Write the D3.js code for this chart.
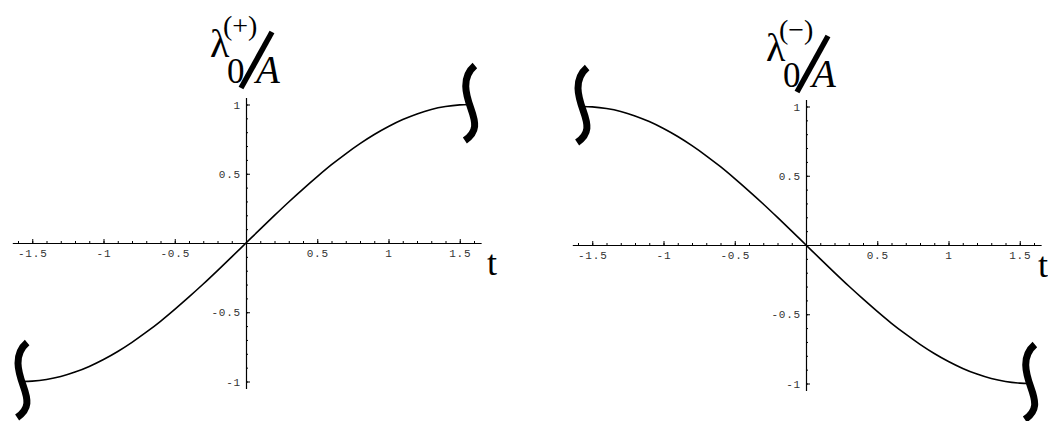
<!DOCTYPE html>
<html>
<head>
<meta charset="utf-8">
<script src="https://cdn.jsdelivr.net/npm/d3@7"></script>
<style>
  html, body { margin: 0; padding: 0; background: #fff; }
  svg { display: block; }
  .tick text { font-family: "Liberation Mono", "DejaVu Sans Mono", monospace; font-size: 11px; fill: #333; letter-spacing: 0.8px; }
  .title { font-family: "Liberation Serif", "Times New Roman", serif; fill: #000; }
</style>
</head>
<body>
<svg id="chart" width="1048" height="421"></svg>
<script>
// Sample points of lambda_0/A against t for each branch
const tValues = [-1.571, -1.5, -1.4, -1.3, -1.2, -1.1, -1.0, -0.9, -0.8, -0.7, -0.6, -0.5, -0.4, -0.3, -0.2, -0.1,
                 0, 0.1, 0.2, 0.3, 0.4, 0.5, 0.6, 0.7, 0.8, 0.9, 1.0, 1.1, 1.2, 1.3, 1.4, 1.5, 1.571];
const lambdaPlus = [-1.000, -0.997, -0.985, -0.964, -0.932, -0.891, -0.841, -0.783, -0.717, -0.644, -0.565, -0.479, -0.389, -0.296, -0.199, -0.100,
                    0, 0.100, 0.199, 0.296, 0.389, 0.479, 0.565, 0.644, 0.717, 0.783, 0.841, 0.891, 0.932, 0.964, 0.985, 0.997, 1.000];
const lambdaMinus = [1.000, 0.997, 0.985, 0.964, 0.932, 0.891, 0.841, 0.783, 0.717, 0.644, 0.565, 0.479, 0.389, 0.296, 0.199, 0.100,
                     0, -0.100, -0.199, -0.296, -0.389, -0.479, -0.565, -0.644, -0.717, -0.783, -0.841, -0.891, -0.932, -0.964, -0.985, -0.997, -1.000];

// Axis ranges and tick values
const xDomain = [-1.64, 1.65];
const yDomain = [-1.05, 1.05];
const xMajorTicks = [-1.5, -1, -0.5, 0.5, 1, 1.5];
const yMajorTicks = [-1, -0.5, 0.5, 1];
const xMinorTicks = d3.range(-16, 17).map(d => d / 10);
const yMinorTicks = d3.range(-10, 11).map(d => d / 10);
const signs = ["+", "\u2212"];

const svg = d3.select("#chart");

// Pixel layout of each panel: origin of the axes and scale per unit
const panels = [
  { ox: 246, oy: 243, values: lambdaPlus,  sign: signs[0], titleX: 210, titleY: 57, tX: 487 },
  { ox: 806, oy: 245, values: lambdaMinus, sign: signs[1], titleX: 766, titleY: 61, tX: 1038 }
];
const pxX = 142.5, pxY = 138.5;

const fmt = d => String(d);

panels.forEach(p => {
  const x = d3.scaleLinear().domain(xDomain).range([p.ox + xDomain[0] * pxX, p.ox + xDomain[1] * pxX]);
  const y = d3.scaleLinear().domain(yDomain).range([p.oy - yDomain[0] * pxY, p.oy - yDomain[1] * pxY]);
  const g = svg.append("g");

  // minor ticks
  g.append("g").attr("transform", `translate(0,${y(0)})`)
    .call(d3.axisBottom(x).tickValues(xMinorTicks).tickSizeInner(-2).tickSizeOuter(0).tickFormat(""))
    .call(a => a.select(".domain").remove());
  g.append("g").attr("transform", `translate(${x(0)},0)`)
    .call(d3.axisLeft(y).tickValues(yMinorTicks).tickSizeInner(-2).tickSizeOuter(0).tickFormat(""))
    .call(a => a.select(".domain").remove());

  // major ticks with labels
  const xa = g.append("g").attr("transform", `translate(0,${y(0)})`)
    .call(d3.axisBottom(x).tickValues(xMajorTicks).tickSizeInner(-4).tickSizeOuter(0).tickPadding(6).tickFormat(fmt));
  const ya = g.append("g").attr("transform", `translate(${x(0)},0)`)
    .call(d3.axisLeft(y).tickValues(yMajorTicks).tickSizeInner(-4).tickSizeOuter(0).tickPadding(5).tickFormat(fmt));
  [xa, ya].forEach(a => a.select(".domain").attr("stroke", "#000").attr("stroke-width", 1.2));
  g.selectAll(".tick line").attr("stroke", "#000");

  // curve
  const pts = tValues.map((t, i) => [t, p.values[i]]);
  g.append("path")
    .datum(pts)
    .attr("fill", "none")
    .attr("stroke", "#000")
    .attr("stroke-width", 1.6)
    .attr("d", d3.line().x(d => x(d[0])).y(d => y(d[1])).curve(d3.curveMonotoneX));

  // break marks at both ends of the curve
  const ends = [pts[0], pts[pts.length - 1]];
  ends.forEach(e => {
    g.append("path")
      .attr("transform", `translate(${x(e[0])},${y(e[1])})`)
      .attr("fill", "none")
      .attr("stroke", "#000")
      .attr("stroke-width", 7)
      .attr("d", "M5,-39 C-9,-27 -4,-10 1,4 C6,18 8,27 -5,36");
  });

  // axis title: lambda_0^(sign) / A
  const tt = g.append("text").attr("class", "title");
  tt.append("tspan").attr("x", p.titleX).attr("y", p.titleY).attr("font-size", 40).text("\u03bb");
  tt.append("tspan").attr("x", p.titleX + 13).attr("y", p.titleY - 22).attr("font-size", 28).text(`(${p.sign})`);
  g.append("text").attr("class", "title")
    .attr("x", p.titleX + 17).attr("y", p.titleY + 26).attr("font-size", 35)
    .text("0");
  g.append("text").attr("class", "title")
    .attr("x", p.titleX + 46).attr("y", p.titleY + 26).attr("font-size", 39).attr("font-style", "italic").text("A");
  g.append("line")
    .attr("x1", p.titleX + 62).attr("y1", p.titleY - 25)
    .attr("x2", p.titleX + 31).attr("y2", p.titleY + 31)
    .attr("stroke", "#000").attr("stroke-width", 5.5);

  // t label
  g.append("text").attr("class", "title").attr("x", p.tX).attr("y", y(0) + 32).attr("font-size", 36).text("t");
});
</script>
</body>
</html>
